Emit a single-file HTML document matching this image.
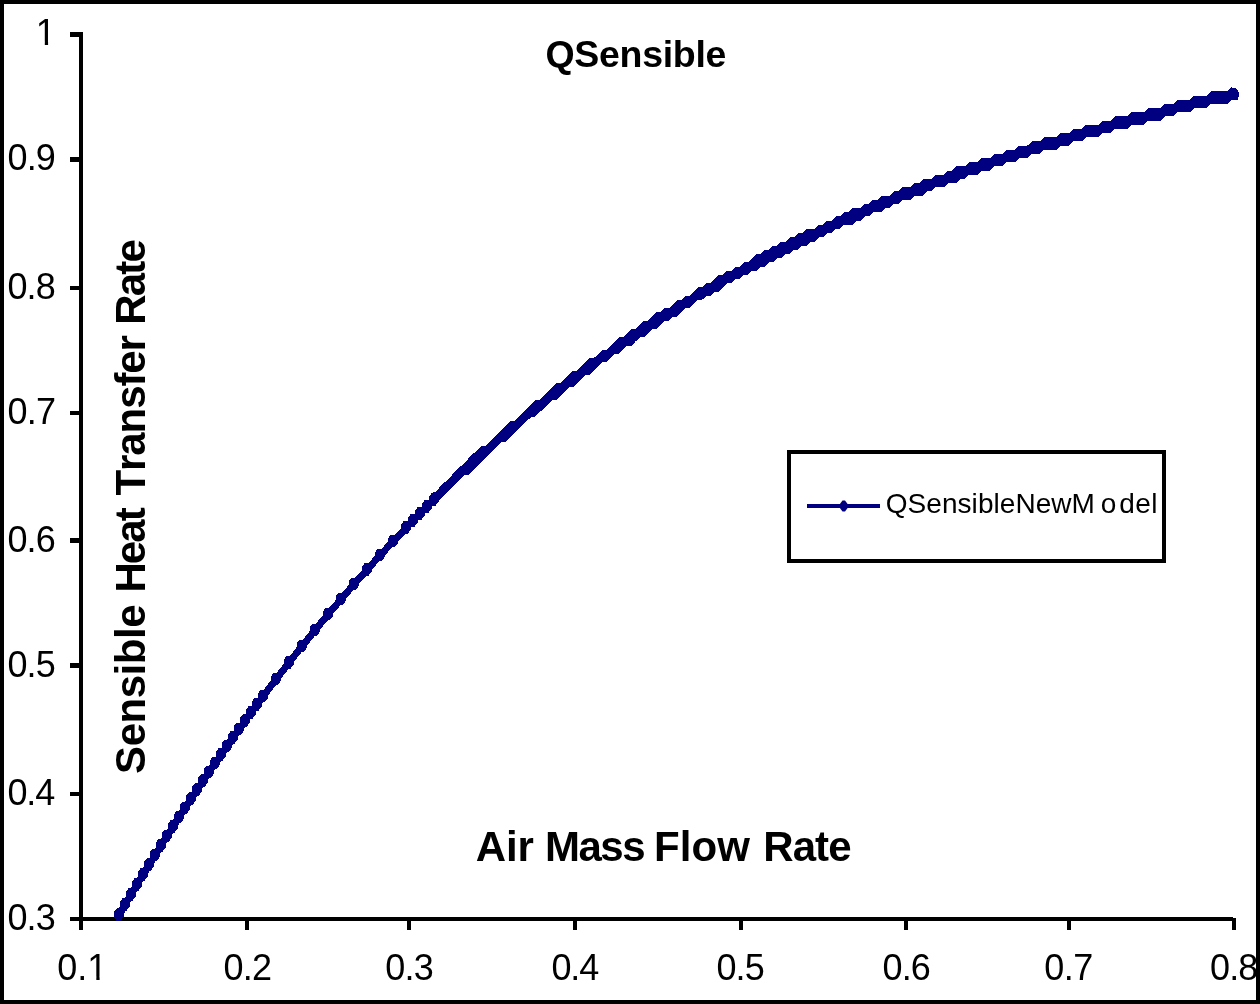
<!DOCTYPE html>
<html lang="en">
<head>
<meta charset="utf-8">
<title>QSensible</title>
<style>
html,body{margin:0;padding:0;background:#fff;}
body{width:1260px;height:1004px;overflow:hidden;}
svg{display:block;}
text{font-family:"Liberation Sans",Arial,sans-serif;fill:#000;font-kerning:none;}
.b{font-weight:bold;}
</style>
</head>
<body>
<svg width="1260" height="1004" viewBox="0 0 1260 1004">
<defs><clipPath id="plot"><rect x="83" y="20" width="1173" height="901"/></clipPath></defs>
<rect x="0" y="0" width="1260" height="1004" fill="#fff"/>
<g fill="#000" shape-rendering="crispEdges">
<rect x="79" y="32" width="4" height="898"/>
<rect x="70" y="917" width="1163" height="4"/>
<rect x="70" y="32" width="10" height="5"/>
<rect x="70" y="157" width="10" height="5"/>
<rect x="70" y="286" width="10" height="4"/>
<rect x="70" y="411" width="10" height="4"/>
<rect x="70" y="538" width="10" height="5"/>
<rect x="70" y="663" width="10" height="5"/>
<rect x="70" y="792" width="10" height="4"/>
<rect x="245" y="918" width="4" height="12"/>
<rect x="407" y="918" width="4" height="12"/>
<rect x="573" y="918" width="4" height="12"/>
<rect x="739" y="918" width="4" height="12"/>
<rect x="904" y="918" width="4" height="12"/>
<rect x="1067" y="918" width="4" height="12"/>
<rect x="1232" y="918" width="4" height="12"/>
</g>
<g clip-path="url(#plot)" shape-rendering="crispEdges">
<path d="M116.6,908.4L120.6,908.4L123.6,912.4L123.6,916.9L120.6,920.9L116.6,920.9L113.6,916.9L113.6,912.4ZM122.6,898.2L126.6,898.2L129.6,902.2L129.6,906.7L126.6,910.7L122.6,910.7L119.6,906.7L119.6,902.2ZM128.6,888.1L132.6,888.1L135.6,892.1L135.6,896.6L132.6,900.6L128.6,900.6L125.6,896.6L125.6,892.1ZM134.6,878.1L138.6,878.1L141.6,882.1L141.6,886.6L138.6,890.6L134.6,890.6L131.6,886.6L131.6,882.1ZM140.6,868.2L144.6,868.2L147.6,872.2L147.6,876.7L144.6,880.7L140.6,880.7L137.6,876.7L137.6,872.2ZM146.6,858.4L150.6,858.4L153.6,862.4L153.6,866.9L150.6,870.9L146.6,870.9L143.6,866.9L143.6,862.4ZM152.6,848.6L156.6,848.6L159.6,852.6L159.6,857.1L156.6,861.1L152.6,861.1L149.6,857.1L149.6,852.6ZM158.6,839.0L162.6,839.0L165.6,843.0L165.6,847.5L162.6,851.5L158.6,851.5L155.6,847.5L155.6,843.0ZM164.6,829.5L168.6,829.5L171.6,833.5L171.6,838.0L168.6,842.0L164.6,842.0L161.6,838.0L161.6,833.5ZM170.6,820.1L174.6,820.1L177.6,824.1L177.6,828.6L174.6,832.6L170.6,832.6L167.6,828.6L167.6,824.1ZM176.6,810.8L180.6,810.8L183.6,814.8L183.6,819.3L180.6,823.3L176.6,823.3L173.6,819.3L173.6,814.8ZM182.6,801.5L186.6,801.5L189.6,805.5L189.6,810.0L186.6,814.0L182.6,814.0L179.6,810.0L179.6,805.5ZM188.6,792.4L192.6,792.4L195.6,796.4L195.6,800.9L192.6,804.9L188.6,804.9L185.6,800.9L185.6,796.4ZM194.6,783.4L198.6,783.4L201.6,787.4L201.6,791.9L198.6,795.9L194.6,795.9L191.6,791.9L191.6,787.4ZM200.6,774.4L204.6,774.4L207.6,778.4L207.6,782.9L204.6,786.9L200.6,786.9L197.6,782.9L197.6,778.4ZM206.6,765.6L210.6,765.6L213.6,769.6L213.6,774.1L210.6,778.1L206.6,778.1L203.6,774.1L203.6,769.6ZM212.6,756.8L216.6,756.8L219.6,760.8L219.6,765.3L216.6,769.3L212.6,769.3L209.6,765.3L209.6,760.8ZM218.6,748.1L222.6,748.1L225.6,752.1L225.6,756.6L222.6,760.6L218.6,760.6L215.6,756.6L215.6,752.1ZM224.6,739.6L228.6,739.6L231.6,743.6L231.6,748.1L228.6,752.1L224.6,752.1L221.6,748.1L221.6,743.6ZM230.6,731.1L234.6,731.1L237.6,735.1L237.6,739.6L234.6,743.6L230.6,743.6L227.6,739.6L227.6,735.1ZM236.6,722.7L240.6,722.7L243.6,726.7L243.6,731.2L240.6,735.2L236.6,735.2L233.6,731.2L233.6,726.7ZM242.6,714.4L246.6,714.4L249.6,718.4L249.6,722.9L246.6,726.9L242.6,726.9L239.6,722.9L239.6,718.4ZM248.6,706.1L252.6,706.1L255.6,710.1L255.6,714.6L252.6,718.6L248.6,718.6L245.6,714.6L245.6,710.1ZM254.6,698.0L258.6,698.0L261.6,702.0L261.6,706.5L258.6,710.5L254.6,710.5L251.6,706.5L251.6,702.0ZM260.6,689.9L264.6,689.9L267.6,693.9L267.6,698.4L264.6,702.4L260.6,702.4L257.6,698.4L257.6,693.9ZM273.6,672.8L277.6,672.8L280.6,676.8L280.6,681.3L277.6,685.3L273.6,685.3L270.6,681.3L270.6,676.8ZM286.6,656.0L290.6,656.0L293.6,660.0L293.6,664.5L290.6,668.5L286.6,668.5L283.6,664.5L283.6,660.0ZM299.6,639.6L303.6,639.6L306.6,643.6L306.6,648.1L303.6,652.1L299.6,652.1L296.6,648.1L296.6,643.6ZM312.6,623.6L316.6,623.6L319.6,627.6L319.6,632.1L316.6,636.1L312.6,636.1L309.6,632.1L309.6,627.6ZM325.6,607.9L329.6,607.9L332.6,611.9L332.6,616.4L329.6,620.4L325.6,620.4L322.6,616.4L322.6,611.9ZM338.6,592.6L342.6,592.6L345.6,596.6L345.6,601.1L342.6,605.1L338.6,605.1L335.6,601.1L335.6,596.6ZM351.6,577.7L355.6,577.7L358.6,581.7L358.6,586.2L355.6,590.2L351.6,590.2L348.6,586.2L348.6,581.7ZM364.6,563.1L368.6,563.1L371.6,567.1L371.6,571.6L368.6,575.6L364.6,575.6L361.6,571.6L361.6,567.1ZM377.6,548.8L381.6,548.8L384.6,552.8L384.6,557.3L381.6,561.3L377.6,561.3L374.6,557.3L374.6,552.8ZM390.6,534.9L394.6,534.9L397.6,538.9L397.6,543.4L394.6,547.4L390.6,547.4L387.6,543.4L387.6,538.9ZM403.6,521.3L407.6,521.3L410.6,525.3L410.6,529.8L407.6,533.8L403.6,533.8L400.6,529.8L400.6,525.3ZM410.6,514.1L414.6,514.1L417.6,518.1L417.6,522.6L414.6,526.6L410.6,526.6L407.6,522.6L407.6,518.1ZM417.6,507.1L421.6,507.1L424.6,511.1L424.6,515.6L421.6,519.6L417.6,519.6L414.6,515.6L414.6,511.1ZM424.6,500.1L428.6,500.1L431.6,504.1L431.6,508.6L428.6,512.6L424.6,512.6L421.6,508.6L421.6,504.1ZM431.6,493.1L435.6,493.1L438.6,497.1L438.6,501.6L435.6,505.6L431.6,505.6L428.6,501.6L428.6,497.1ZM1231.6,87.9L1235.6,87.9L1238.6,91.9L1238.6,96.4L1235.6,100.4L1231.6,100.4L1228.6,96.4L1228.6,91.9ZM433.3,491.7L435.4,491.7L439.5,487.5L439.5,487.5L443.7,483.3L443.7,483.3L447.9,479.2L447.9,479.2L452.0,475.0L452.0,475.0L456.2,470.8L456.2,470.8L460.4,466.6L460.4,466.6L464.6,462.5L464.6,462.5L468.7,458.3L468.7,458.3L472.9,454.1L472.9,454.1L477.1,450.0L477.1,450.0L481.2,445.8L485.4,445.8L489.6,441.6L489.6,441.6L493.7,437.4L493.7,437.4L497.9,433.3L497.9,433.3L502.1,429.1L502.1,429.1L506.3,424.9L506.3,424.9L510.4,420.8L514.6,420.8L518.8,416.6L518.8,416.6L522.9,412.4L522.9,412.4L527.1,408.3L527.1,408.3L531.3,404.1L531.3,404.1L535.4,399.9L539.6,399.9L543.8,395.8L543.8,395.8L548.0,391.6L548.0,391.6L552.1,387.4L552.1,387.4L556.3,383.2L560.5,383.2L564.6,379.1L564.6,379.1L568.8,374.9L568.8,374.9L573.0,370.7L577.1,370.7L581.3,366.6L581.3,366.6L585.5,362.4L585.5,362.4L589.7,358.2L593.8,358.2L598.0,354.1L598.0,354.1L602.2,349.9L606.3,349.9L610.5,345.7L610.5,345.7L614.7,341.5L614.7,341.5L618.8,337.4L623.0,337.4L627.2,333.2L627.2,333.2L631.4,329.0L635.5,329.0L639.7,324.9L639.7,324.9L643.9,320.7L648.0,320.7L652.2,316.5L652.2,316.5L656.4,312.4L660.5,312.4L664.7,308.2L668.9,308.2L673.1,304.0L673.1,304.0L677.2,299.8L681.4,299.8L685.6,295.7L689.7,295.7L693.9,291.5L693.9,291.5L698.1,287.3L702.2,287.3L706.4,283.2L710.6,283.2L714.8,279.0L714.8,279.0L718.9,274.8L723.1,274.8L727.3,270.7L731.4,270.7L735.6,266.5L739.8,266.5L743.9,262.3L748.1,262.3L752.3,258.1L752.3,258.1L756.5,254.0L760.6,254.0L764.8,249.8L769.0,249.8L773.1,245.6L777.3,245.6L781.5,241.5L785.6,241.5L789.8,237.3L794.0,237.3L798.2,233.1L802.3,233.1L806.5,228.9L814.8,228.9L819.0,224.8L823.2,224.8L827.3,220.6L831.5,220.6L835.7,216.4L839.9,216.4L844.0,212.3L848.2,212.3L852.4,208.1L860.7,208.1L864.9,203.9L869.0,203.9L873.2,199.8L877.4,199.8L881.6,195.6L889.9,195.6L894.1,191.4L898.2,191.4L902.4,187.2L910.7,187.2L914.9,183.1L919.1,183.1L923.3,178.9L931.6,178.9L935.8,174.7L944.1,174.7L948.3,170.6L952.4,170.6L956.6,166.4L965.0,166.4L969.1,162.2L977.5,162.2L981.6,158.1L990.0,158.1L994.1,153.9L1002.5,153.9L1006.7,149.7L1015.0,149.7L1019.2,145.5L1027.5,145.5L1031.7,141.4L1040.0,141.4L1044.2,137.2L1056.7,137.2L1060.9,133.0L1069.2,133.0L1073.4,128.9L1081.7,128.9L1085.9,124.7L1098.4,124.7L1102.6,120.5L1110.9,120.5L1115.1,116.4L1127.6,116.4L1131.8,112.2L1144.3,112.2L1148.4,108.0L1160.9,108.0L1165.1,103.8L1173.5,103.8L1177.6,99.7L1190.1,99.7L1194.3,95.5L1206.8,95.5L1211.0,91.3L1227.7,91.3L1231.8,87.2L1231.8,87.2L1236.0,91.3L1238.1,91.3L1238.1,99.7L1231.8,99.7L1227.7,103.8L1211.0,103.8L1206.8,108.0L1194.3,108.0L1190.1,112.2L1177.6,112.2L1173.5,116.4L1165.1,116.4L1160.9,120.5L1148.4,120.5L1144.3,124.7L1131.8,124.7L1127.6,128.9L1115.1,128.9L1110.9,133.0L1102.6,133.0L1098.4,137.2L1085.9,137.2L1081.7,141.4L1073.4,141.4L1069.2,145.5L1060.9,145.5L1056.7,149.7L1044.2,149.7L1040.0,153.9L1031.7,153.9L1027.5,158.1L1019.2,158.1L1015.0,162.2L1006.7,162.2L1002.5,166.4L994.1,166.4L990.0,170.6L981.6,170.6L977.5,174.7L969.1,174.7L965.0,178.9L960.8,178.9L956.6,183.1L948.3,183.1L944.1,187.2L935.8,187.2L931.6,191.4L927.4,191.4L923.3,195.6L914.9,195.6L910.7,199.8L902.4,199.8L898.2,203.9L894.1,203.9L889.9,208.1L885.7,208.1L881.6,212.3L873.2,212.3L869.0,216.4L864.9,216.4L860.7,220.6L856.5,220.6L852.4,224.8L844.0,224.8L839.9,228.9L835.7,228.9L831.5,233.1L827.3,233.1L823.2,237.3L819.0,237.3L814.8,241.5L810.7,241.5L806.5,245.6L802.3,245.6L798.2,249.8L794.0,249.8L789.8,254.0L785.6,254.0L781.5,258.1L777.3,258.1L773.1,262.3L769.0,262.3L764.8,266.5L760.6,266.5L756.5,270.7L752.3,270.7L748.1,274.8L743.9,274.8L739.8,279.0L735.6,279.0L731.4,283.2L727.3,283.2L723.1,287.3L723.1,287.3L718.9,291.5L714.8,291.5L710.6,295.7L706.4,295.7L702.2,299.8L698.1,299.8L693.9,304.0L693.9,304.0L689.7,308.2L685.6,308.2L681.4,312.4L681.4,312.4L677.2,316.5L673.1,316.5L668.9,320.7L664.7,320.7L660.5,324.9L660.5,324.9L656.4,329.0L652.2,329.0L648.0,333.2L648.0,333.2L643.9,337.4L639.7,337.4L635.5,341.5L635.5,341.5L631.4,345.7L627.2,345.7L623.0,349.9L623.0,349.9L618.8,354.1L614.7,354.1L610.5,358.2L610.5,358.2L606.3,362.4L602.2,362.4L598.0,366.6L598.0,366.6L593.8,370.7L593.8,370.7L589.7,374.9L585.5,374.9L581.3,379.1L581.3,379.1L577.1,383.2L577.1,383.2L573.0,387.4L568.8,387.4L564.6,391.6L564.6,391.6L560.5,395.8L560.5,395.8L556.3,399.9L552.1,399.9L548.0,404.1L548.0,404.1L543.8,408.3L543.8,408.3L539.6,412.4L539.6,412.4L535.4,416.6L531.3,416.6L527.1,420.8L527.1,420.8L522.9,424.9L522.9,424.9L518.8,429.1L518.8,429.1L514.6,433.3L514.6,433.3L510.4,437.4L510.4,437.4L506.3,441.6L502.1,441.6L497.9,445.8L497.9,445.8L493.7,450.0L493.7,450.0L489.6,454.1L489.6,454.1L485.4,458.3L485.4,458.3L481.2,462.5L481.2,462.5L477.1,466.6L477.1,466.6L472.9,470.8L472.9,470.8L468.7,475.0L464.6,475.0L460.4,479.2L460.4,479.2L456.2,483.3L456.2,483.3L452.0,487.5L452.0,487.5L447.9,491.7L447.9,491.7L443.7,495.8L443.7,495.8L439.5,500.0L439.5,500.0L435.4,495.8L433.3,495.8Z" fill="#000080"/>
<path d="M118.0,916.8 L122.0,909.9 L126.0,903.2 L130.0,896.4 L134.0,889.7 L138.0,883.1 L142.0,876.5 L146.0,869.9 L150.0,863.4 L154.0,856.9 L158.0,850.5 L162.0,844.1 L166.0,837.7 L170.0,831.4 L174.0,825.2 L178.0,819.0 L182.0,812.8 L186.0,806.7 L190.0,800.6 L194.0,794.5 L198.0,788.5 L202.0,782.6 L206.0,776.6 L210.0,770.8 L214.0,764.9 L218.0,759.1 L222.0,753.4 L226.0,747.6 L230.0,742.0 L234.0,736.3 L238.0,730.7 L242.0,725.2 L246.0,719.6 L250.0,714.1 L254.0,708.7 L258.0,703.3 L262.0,697.9 L266.0,692.6 L270.0,687.3 L274.0,682.0 L278.0,676.8 L282.0,671.6 L286.0,666.5 L290.0,661.4 L294.0,656.3 L298.0,651.2 L302.0,646.2 L306.0,641.3 L310.0,636.3 L314.0,631.4 L318.0,626.6 L322.0,621.7 L326.0,616.9 L330.0,612.2 L334.0,607.5 L338.0,602.8 L342.0,598.1 L346.0,593.5 L350.0,588.9 L354.0,584.3 L358.0,579.8 L362.0,575.3 L366.0,570.8 L370.0,566.4 L374.0,562.0 L378.0,557.7 L382.0,553.3 L386.0,549.0 L390.0,544.7 L394.0,540.5 L398.0,536.3 L402.0,532.1 L406.0,528.0 L410.0,523.9 L414.0,519.8 L418.0,515.7 L422.0,511.7 L426.0,507.7 L430.0,503.7 L434.0,499.8 L438.0,495.9 L442.0,492.0 L446.0,488.1 L450.0,484.3 L454.0,480.5 L458.0,476.8 L462.0,473.0 L466.0,469.3 L470.0,465.6 L474.0,462.0 L478.0,458.3 L482.0,454.7 L486.0,451.2 L490.0,447.6 L494.0,444.1 L498.0,440.6 L502.0,437.1 L506.0,433.7 L510.0,430.3 L514.0,426.9 L518.0,423.5 L522.0,420.2 L526.0,416.9 L530.0,413.6 L534.0,410.3 L538.0,407.1 L542.0,403.9 L546.0,400.7 L550.0,397.5 L554.0,394.4 L558.0,391.2 L562.0,388.1 L566.0,385.1 L570.0,382.0 L574.0,379.0 L578.0,376.0 L582.0,373.0 L586.0,370.1 L590.0,367.1 L594.0,364.2 L598.0,361.3 L602.0,358.5 L606.0,355.6 L610.0,352.8 L614.0,350.0 L618.0,347.2 L622.0,344.5 L626.0,341.7 L630.0,339.0 L634.0,336.3 L638.0,333.6 L642.0,331.0 L646.0,328.4 L650.0,325.7 L654.0,323.1 L658.0,320.6 L662.0,318.0 L666.0,315.5 L670.0,313.0 L674.0,310.5 L678.0,308.0 L682.0,305.6 L686.0,303.1 L690.0,300.7 L694.0,298.3 L698.0,295.9 L702.0,293.6 L706.0,291.2 L710.0,288.9 L714.0,286.6 L718.0,284.3 L722.0,282.0 L726.0,279.8 L730.0,277.5 L734.0,275.3 L738.0,273.1 L742.0,270.9 L746.0,268.8 L750.0,266.6 L754.0,264.5 L758.0,262.4 L762.0,260.3 L766.0,258.2 L770.0,256.1 L774.0,254.1 L778.0,252.0 L782.0,250.0 L786.0,248.0 L790.0,246.0 L794.0,244.0 L798.0,242.1 L802.0,240.1 L806.0,238.2 L810.0,236.3 L814.0,234.4 L818.0,232.5 L822.0,230.6 L826.0,228.8 L830.0,226.9 L834.0,225.1 L838.0,223.3 L842.0,221.5 L846.0,219.7 L850.0,217.9 L854.0,216.2 L858.0,214.4 L862.0,212.7 L866.0,211.0 L870.0,209.3 L874.0,207.6 L878.0,205.9 L882.0,204.2 L886.0,202.6 L890.0,200.9 L894.0,199.3 L898.0,197.7 L902.0,196.1 L906.0,194.5 L910.0,192.9 L914.0,191.3 L918.0,189.8 L922.0,188.2 L926.0,186.7 L930.0,185.2 L934.0,183.7 L938.0,182.2 L942.0,180.7 L946.0,179.2 L950.0,177.7 L954.0,176.3 L958.0,174.8 L962.0,173.4 L966.0,171.9 L970.0,170.5 L974.0,169.1 L978.0,167.7 L982.0,166.3 L986.0,165.0 L990.0,163.6 L994.0,162.2 L998.0,160.9 L1002.0,159.5 L1006.0,158.2 L1010.0,156.9 L1014.0,155.6 L1018.0,154.3 L1022.0,153.0 L1026.0,151.7 L1030.0,150.4 L1034.0,149.2 L1038.0,147.9 L1042.0,146.6 L1046.0,145.4 L1050.0,144.2 L1054.0,142.9 L1058.0,141.7 L1062.0,140.5 L1066.0,139.3 L1070.0,138.1 L1074.0,136.9 L1078.0,135.7 L1082.0,134.6 L1086.0,133.4 L1090.0,132.3 L1094.0,131.1 L1098.0,130.0 L1102.0,128.8 L1106.0,127.7 L1110.0,126.6 L1114.0,125.4 L1118.0,124.3 L1122.0,123.2 L1126.0,122.1 L1130.0,121.0 L1134.0,120.0 L1138.0,118.9 L1142.0,117.8 L1146.0,116.7 L1150.0,115.7 L1154.0,114.6 L1158.0,113.6 L1162.0,112.5 L1166.0,111.5 L1170.0,110.5 L1174.0,109.4 L1178.0,108.4 L1182.0,107.4 L1186.0,106.4 L1190.0,105.4 L1194.0,104.4 L1198.0,103.4 L1202.0,102.4 L1206.0,101.4 L1210.0,100.4 L1214.0,99.4 L1218.0,98.4 L1222.0,97.5 L1226.0,96.5 L1230.0,95.5 L1234.0,94.6 L1234.0,94.6" fill="none" stroke="#000080" stroke-width="7" stroke-linejoin="round"/>
</g>
<text x="35.8" y="45" font-size="36">1</text>
<rect x="37.84" y="41.71" width="6.97" height="4.09" fill="#fff"/><rect x="48.08" y="41.71" width="6.68" height="4.09" fill="#fff"/>
<text x="7.39" y="170" font-size="36" letter-spacing="-0.767">0.9</text>
<text x="7.39" y="298.7" font-size="36" letter-spacing="-0.837">0.8</text>
<text x="7.39" y="424" font-size="36" letter-spacing="-0.714">0.7</text>
<text x="7.39" y="552" font-size="36" letter-spacing="-0.828">0.6</text>
<text x="7.39" y="677" font-size="36" letter-spacing="-0.863">0.5</text>
<text x="7.39" y="805" font-size="36" letter-spacing="-1.092">0.4</text>
<text x="7.39" y="930" font-size="36" letter-spacing="-0.828">0.3</text>
<text x="57.29" y="980" font-size="36">0.1</text>
<rect x="89.35" y="976.71" width="6.97" height="4.09" fill="#fff"/><rect x="99.60" y="976.71" width="6.68" height="4.09" fill="#fff"/>
<text x="223.49" y="980" font-size="36" letter-spacing="-0.764">0.2</text>
<text x="385.29" y="980" font-size="36" letter-spacing="-0.778">0.3</text>
<text x="551.49" y="980" font-size="36" letter-spacing="-1.142">0.4</text>
<text x="716.49" y="980" font-size="36" letter-spacing="-0.913">0.5</text>
<text x="882.49" y="980" font-size="36" letter-spacing="-0.878">0.6</text>
<text x="1044.29" y="980" font-size="36" letter-spacing="-0.564">0.7</text>
<text x="1209.99" y="980" font-size="36" letter-spacing="-0.837">0.8</text>
<text class="b" x="545.46" y="66.8" font-size="37.5" letter-spacing="-0.310">QSensible</text>
<text class="b" y="860.7" font-size="42"><tspan x="475.85" letter-spacing="-0.132">Air </tspan><tspan x="544.99" letter-spacing="-1.510">Mass </tspan><tspan x="654.09" letter-spacing="0.060">Flow </tspan><tspan x="763.29" letter-spacing="-0.930">Rate</tspan></text>
<text class="b" y="0" font-size="42" transform="translate(145,0) rotate(-90)"><tspan x="-773.91" letter-spacing="-0.470">Sensible </tspan><tspan x="-592.51" letter-spacing="-1.971">Heat </tspan><tspan x="-495.57" letter-spacing="-1.079">Transfer </tspan><tspan x="-324.81" letter-spacing="-1.763">Rate</tspan></text>
<rect x="789" y="452" width="375" height="109" fill="#fff" stroke="#000" stroke-width="4" shape-rendering="crispEdges"/>
<rect x="807" y="504" width="73" height="4" fill="#000080" shape-rendering="crispEdges"/>
<path d="M842.5,500.5L845.0,500.5L848.0,504.5L848.0,507.5L845.0,511.5L842.5,511.5L839.5,507.5L839.5,504.5Z" fill="#000080"/>
<text x="885.77" y="513.3" font-size="28" letter-spacing="0.050">QSensibleNewM<tspan x="1100.72">o</tspan><tspan x="1119.32" letter-spacing="0.342">del</tspan></text>
<rect x="2" y="2" width="1256" height="1000" fill="none" stroke="#000" stroke-width="4" shape-rendering="crispEdges"/>
</svg>
</body>
</html>
